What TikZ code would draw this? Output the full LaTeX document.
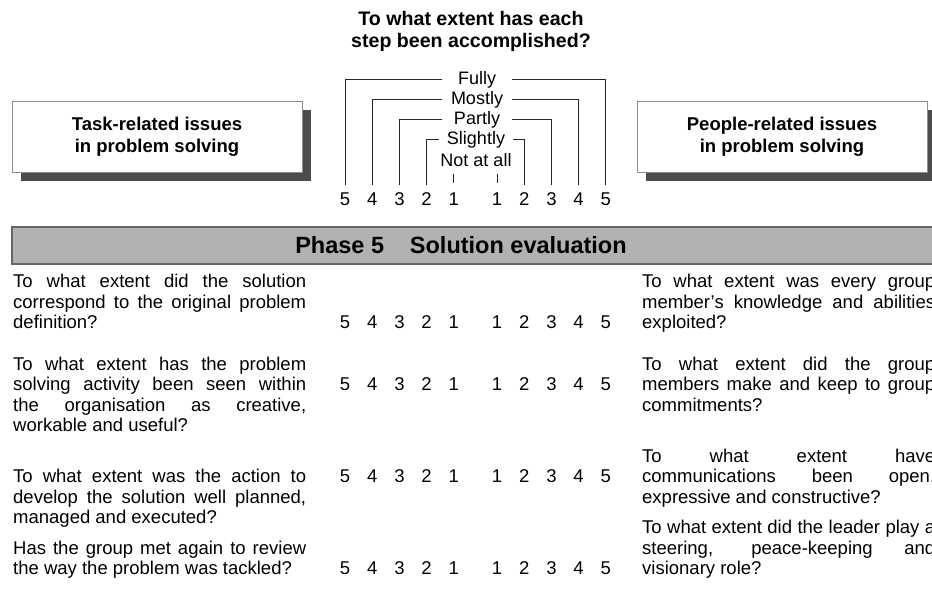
\documentclass[tikz,border=0pt]{standalone}
\usepackage{fontspec}
\setmainfont{Liberation Sans}
\usetikzlibrary{shadows}
\hyphenpenalty=10000
\tolerance=9999

\tikzset{
  question/.style={anchor=north west, inner sep=0pt, text width=293pt, align=justify,
    font=\fontsize{18.5}{20.5}\selectfont},
  score/.style={inner sep=0pt, font=\fontsize{18.5}{22}\selectfont},
  scalelabel/.style={inner sep=0pt, minimum width=70pt, font=\fontsize{18}{20}\selectfont},
  bracket/.style={line width=1pt, black!85},
  issuebox/.style={draw=black!45, fill=white, minimum width=290pt, minimum height=71pt,
    align=center, font=\bfseries\fontsize{18.5}{22}\selectfont,
    drop shadow={shadow xshift=9pt, shadow yshift=-9pt, fill=black!70, opacity=1}},
}

\begin{document}
\begin{tikzpicture}[x=1pt, y=-1pt]
\useasboundingbox (0,0) rectangle (932,612);
\fill[white] (0,0) rectangle (932,612);
\clip (0,0) rectangle (932,612);

% heading and scale
\node[font=\bfseries\fontsize{19.6}{22.5}\selectfont, align=center] (title) at (471,31.5)
  {To what extent has each\\step been accomplished?};

\foreach \n [count=\i] in {5,4,3,2,1}
  \node[score] (hl\n) at ({345+27.2*(\i-1)},199) {\n};
\foreach \n in {1,...,5}
  \node[score] (hr\n) at ({497+27.2*(\n-1)},199) {\n};

\node[scalelabel] (fully) at (477,80) {Fully};
\node[scalelabel] (mostly) at (477,100) {Mostly};
\node[scalelabel] (partly) at (477,120) {Partly};
\node[scalelabel, minimum width=74pt] (slightly) at (476,140) {Slightly};
\node[scalelabel] (notatall) at (476,160) {Not at all};

\draw[bracket, shorten >=7pt] (fully.west) -| (hl5);
\draw[bracket, shorten >=7pt] (fully.east) -| (hr5);
\draw[bracket, shorten >=7pt] (mostly.west) -| (hl4);
\draw[bracket, shorten >=7pt] (mostly.east) -| (hr4);
\draw[bracket, shorten >=7pt] (partly.west) -| (hl3);
\draw[bracket, shorten >=7pt] (partly.east) -| (hr3);
\draw[bracket, shorten >=7pt] (slightly.west) -| (hl2);
\draw[bracket, shorten >=7pt] (slightly.east) -| (hr2);
\draw[bracket, shorten <=7.5pt, shorten >=9.5pt] (notatall.south -| hl1) -- (hl1);
\draw[bracket, shorten <=7.5pt, shorten >=9.5pt] (notatall.south -| hr1) -- (hr1);

\node[issuebox] (task) at (157,136.5) {Task-related issues\\in problem solving};
\node[issuebox] (people) at (782,136.5) {People-related issues\\in problem solving};

% phase bar
\filldraw[fill=black!30, draw=black!60, line width=1.2pt] (12,227) rectangle (940,264);
\node[font=\bfseries\fontsize{23.5}{25}\selectfont] (phase) at (461,245)
  {Phase 5\hspace{1.1em}Solution evaluation};

% questions
\node[question] (q1) at (13,274) {To what extent did the solution\linebreak
  correspond to the original problem\linebreak definition?};
\node[question] (q2) at (13,356.5) {To what extent has the problem\linebreak
  solving activity been seen within\linebreak the organisation as creative,\linebreak
  workable and useful?};
\node[question] (q3) at (13,469) {To what extent was the action to\linebreak
  develop the solution well planned,\linebreak managed and executed?};
\node[question] (q4) at (13,540.5) {Has the group met again to review\linebreak
  the way the problem was tackled?};

\node[question] (p1) at (642,274) {To what extent was every group\linebreak
  member's knowledge and abilities\linebreak exploited?};
\node[question] (p2) at (642,356.5) {To what extent did the group\linebreak
  members make and keep to group\linebreak commitments?};
\node[question] (p3) at (642,448.5) {To what extent have\linebreak
  communications been open,\linebreak expressive and constructive?};
\node[question] (p4) at (642,520) {To what extent did the leader play a\linebreak
  steering, peace-keeping and\linebreak visionary role?};

% ratings
\foreach \y [count=\r] in {322,384,476,568} {
  \foreach \n [count=\i] in {5,4,3,2,1}
    \node[score] (t\r-\n) at ({345+27.2*(\i-1)},\y) {\n};
  \foreach \n in {1,...,5}
    \node[score] (s\r-\n) at ({497+27.2*(\n-1)},\y) {\n};
}
\end{tikzpicture}
\end{document}
